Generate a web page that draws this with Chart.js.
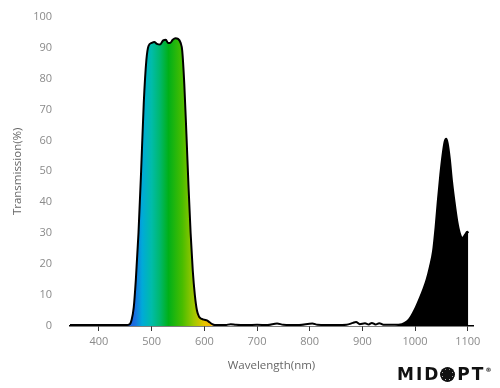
<!DOCTYPE html>
<html>
<head>
<meta charset="utf-8">
<script src="https://cdn.jsdelivr.net/npm/chart.js@4/dist/chart.umd.min.js"></script>
<style>
  body { margin: 0; background: #fff; }
  #wrap { position: relative; width: 500px; height: 388px; }
  #logo {
    position: absolute; left: 397px; top: 360px;
    font-family: "DejaVu Sans", sans-serif; font-weight: bold; font-size: 17px;
    letter-spacing: 2px; color: #111; line-height: 20px; white-space: nowrap;
  }
  #logo .o {
    display: inline-block; width: 15px; height: 15px; border-radius: 50%;
    background: radial-gradient(circle at 50% 50%, #111 0 2px, transparent 2.5px),
                repeating-conic-gradient(#111 0 20deg, #fff 20deg 25deg, #111 25deg 45deg);
    box-shadow: inset 0 0 0 2px #111;
    color: transparent; vertical-align: -2px; margin: 0 2px 0 0; overflow: hidden; font-size: 12px; line-height: 15px;
  }
  #logo sup { font-size: 6px; vertical-align: 8px; letter-spacing: 0; }
</style>
</head>
<body>
<div id="wrap">
  <canvas id="chart" width="500" height="388"></canvas>
  <div id="logo">MID<span class="o">O</span>PT<sup>®</sup></div>
</div>
<script>
// wavelength (nm) and transmission (%)
let wavelengths = [345, 400, 450, 458, 462, 466, 470, 475, 480, 485, 490, 494, 500, 505, 510, 516, 522, 527, 531, 535, 540, 545, 550, 555, 558, 562, 566, 570, 574, 578, 582, 586, 590, 595, 600, 605, 610, 615, 620,
  640, 650, 660, 680, 700, 720, 738, 750, 780, 805, 815, 850, 870, 882, 888, 895, 905, 912, 918, 925, 932, 940, 960, 975, 985, 992, 1000, 1009, 1016, 1022, 1028, 1034, 1039, 1043, 1048, 1052, 1056, 1059, 1062, 1066, 1070, 1075, 1080, 1085, 1090, 1095, 1099, 1101];
let transmission = [0.3, 0.3, 0.3, 0.5, 2, 6, 15, 30, 50, 72, 86, 90.5, 91.5, 91.8, 91.2, 91, 92.3, 92.5, 91.5, 91.5, 92.5, 93, 92.8, 91.5, 89, 78, 62, 45, 30, 18, 10, 5, 3, 2.3, 2, 1.8, 1.2, 0.6, 0.3,
  0.3, 0.6, 0.4, 0.3, 0.4, 0.3, 0.8, 0.4, 0.3, 0.8, 0.4, 0.3, 0.4, 1.0, 1.3, 0.6, 0.9, 0.5, 1.0, 0.5, 0.9, 0.4, 0.4, 0.6, 1.5, 3, 5.5, 9, 12, 15, 19, 24, 32, 40, 49, 55, 59.5, 60.5, 59, 54, 47, 40, 34, 30, 28.5, 29.5, 30.5, 30];
let xTicks = [400, 500, 600, 700, 800, 900, 1000, 1100];
let yTicks = [0, 10, 20, 30, 40, 50, 60, 70, 80, 90, 100];

// fill colours by wavelength
let stopNm = [450, 468, 482, 500, 515, 532, 558, 580, 600, 612, 622, 960, 968, 1110];
let stopColors = ['#1a50e0', '#1a70e0', '#00aad8', '#00bca8', '#00b870', '#00b018', '#48bd00', '#a0c800', '#e8c400', '#f5b800', '#ffffff', '#ffffff', '#000000', '#000000'];

let points = [];
for (let i = 0; i < wavelengths.length; i++) {
    points.push({ x: wavelengths[i], y: transmission[i] });
}

function spectrumFill(context) {
    const chart = context.chart;
    const area = chart.chartArea;
    if (!area) return null;
    const xs = chart.scales.x;
    const g = chart.ctx.createLinearGradient(area.left, 0, area.right, 0);
    for (let i = 0; i < stopNm.length; i++) {
        let f = (xs.getPixelForValue(stopNm[i]) - area.left) / (area.right - area.left);
        g.addColorStop(Math.min(1, Math.max(0, f)), stopColors[i]);
    }
    return g;
}

const labelFont = { family: 'Open Sans', size: 11 };

new Chart(document.getElementById('chart').getContext('2d'), {
    type: 'line',
    data: {
        datasets: [{
            data: points,
            borderColor: '#000',
            borderWidth: 2,
            backgroundColor: spectrumFill,
            fill: 'origin',
            pointRadius: 0,
            cubicInterpolationMode: 'monotone'
        }]
    },
    options: {
        responsive: false,
        animation: false,
        layout: { padding: { top: 7, right: 27, left: 0, bottom: 0 } },
        plugins: { legend: { display: false }, tooltip: { enabled: false } },
        scales: {
            x: {
                type: 'linear',
                min: 345,
                max: 1110,
                afterBuildTicks: s => { s.ticks = xTicks.map(v => ({ value: v })); },
                afterFit: s => { s.height = 62; },
                grid: { drawOnChartArea: false, drawTicks: true, tickLength: 5, color: '#333' },
                border: { display: true, color: '#000', width: 1.5 },
                ticks: { color: '#8a8a8a', font: labelFont, padding: 4, maxRotation: 0, callback: v => String(v) },
                title: { display: true, text: 'Wavelength(nm)', color: '#666', font: { family: 'Open Sans', size: 11.5 }, padding: { top: 4, bottom: 15 } }
            },
            y: {
                min: 0,
                max: 100,
                afterBuildTicks: s => { s.ticks = yTicks.map(v => ({ value: v })); },
                afterFit: s => { s.width = 70; },
                grid: { display: false },
                border: { display: false },
                ticks: { color: '#8a8a8a', font: labelFont, padding: 10, callback: v => String(v) },
                title: { display: true, text: 'Transmission(%)', color: '#666', font: { family: 'Open Sans', size: 11.5 }, padding: { top: 11, bottom: 0 } }
            }
        }
    }
});
</script>
</body>
</html>
